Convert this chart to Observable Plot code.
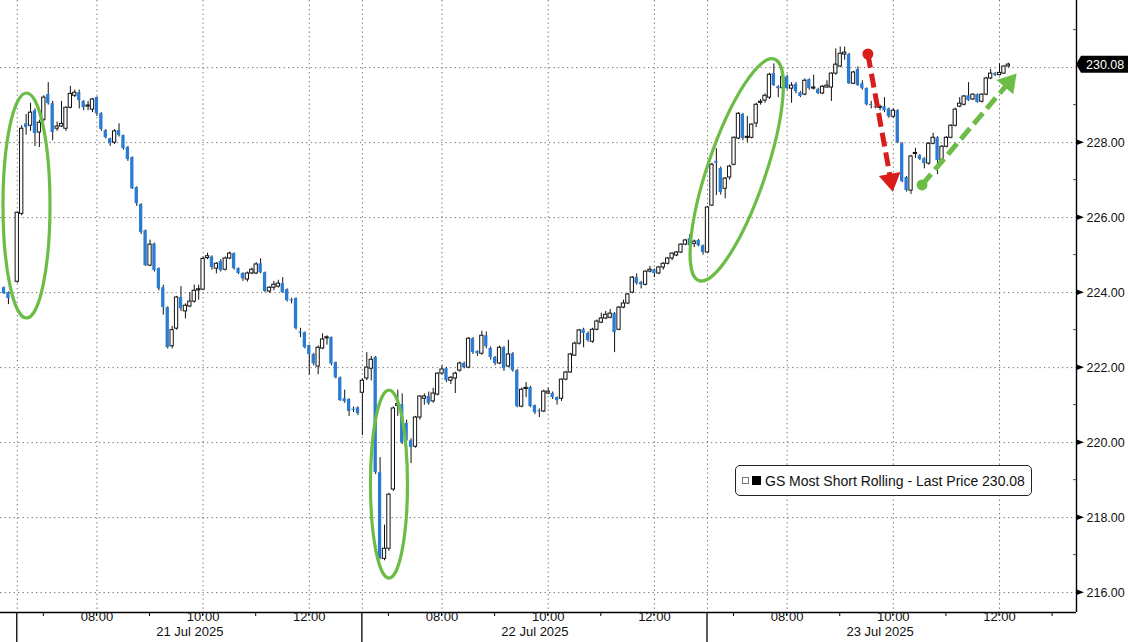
<!DOCTYPE html>
<html><head><meta charset="utf-8">
<script src="https://cdn.jsdelivr.net/npm/d3@7"></script>
<script src="https://cdn.jsdelivr.net/npm/@observablehq/plot@0.6"></script>
<style>
body{margin:0;background:#fff;}
#wrap{position:relative;width:1128px;height:642px;font-family:"Liberation Sans",Arial,sans-serif;overflow:hidden;}
#legend{position:absolute;left:735px;top:465px;width:297px;height:31px;border:1.3px solid #222;border-radius:5px;box-sizing:border-box;display:flex;align-items:center;font-size:14px;color:#111;background:#fff;white-space:nowrap;}
#legend .pm{width:5px;height:5px;border:1px solid #777;margin-left:6px;position:relative;}
#legend .sq{width:9px;height:9px;background:#000;margin-left:3px;margin-right:4px;}
</style></head><body><div id="wrap"></div>
<script>
// ---- data: 5-minute OHLC bars [open, high, low, close] ----
const prev18 = [[224.13,224.15,223.95,223.97],[224.00,224.02,223.68,223.84]];
const day21 = [
[224.29,226.15,224.25,226.13],[226.10,228.45,226.05,228.37],[228.50,228.75,228.20,228.40],[228.45,229.05,228.30,228.80],
[228.85,228.90,227.90,228.24],[228.27,228.60,227.87,228.53],[228.61,229.25,228.55,229.20],[229.28,229.60,229.00,229.04],
[229.04,229.10,228.05,228.27],[228.37,228.55,228.30,228.43],[228.43,229.10,228.40,228.50],[228.37,228.95,228.30,228.93],
[228.93,229.50,228.90,229.30],[229.25,229.40,229.20,229.33],[229.33,229.40,228.90,229.12],[229.10,229.12,228.85,228.93],
[228.96,229.10,228.85,228.99],[228.88,229.18,228.80,229.15],[229.20,229.22,228.70,228.77],[228.77,228.80,228.30,228.35],
[228.32,228.35,228.10,228.13],[228.10,228.12,227.90,227.97],[228.00,228.35,227.95,228.30],[228.32,228.50,228.15,228.19],
[228.19,228.20,227.80,227.84],[227.87,227.90,227.50,227.55],[227.60,227.62,226.75,226.77],[226.80,226.82,226.30,226.37],
[226.35,226.37,225.55,225.60],[225.65,225.67,224.70,224.72],[224.72,225.40,224.70,225.28],[225.30,225.32,224.55,224.59],
[224.64,224.66,224.05,224.10],[224.13,224.20,223.40,223.60],[223.60,223.62,222.50,222.53],[222.57,223.10,222.50,223.00],
[223.04,223.90,223.00,223.87],[223.87,224.16,223.50,223.57],[223.50,223.70,223.30,223.65],[223.63,224.00,223.60,223.76],
[223.76,224.20,223.72,224.05],[224.06,224.20,223.80,224.09],[224.08,224.95,224.05,224.90],[224.92,225.05,224.88,224.97],
[224.95,224.98,224.60,224.67],[224.64,224.80,224.50,224.77],[224.83,224.88,224.55,224.59],[224.61,224.95,224.58,224.91],
[224.91,225.08,224.88,225.04],[225.04,225.06,224.60,224.64],[224.64,224.66,224.48,224.51],[224.51,224.53,224.30,224.37],
[224.35,224.55,224.28,224.51],[224.51,224.65,224.48,224.61],[224.51,224.80,224.48,224.75],[224.77,224.90,224.50,224.53],
[224.53,224.55,224.00,224.03],[224.03,224.16,223.98,224.13],[224.13,224.30,224.05,224.21],[224.16,224.33,224.12,224.24],
[224.24,224.40,223.98,224.00],[224.08,224.10,223.75,223.79],[223.80,223.85,223.70,223.78],[223.84,223.86,223.00,223.04],
[222.95,223.05,222.80,222.92],[222.93,222.95,222.50,222.53],[222.59,222.60,221.80,222.35],[222.35,222.38,222.05,222.10],
[222.03,222.58,221.81,222.53],[222.51,222.90,222.48,222.75],[222.78,222.85,222.60,222.81],[222.80,222.82,222.05,222.10],
[222.13,222.15,221.70,221.73],[221.73,221.75,221.10,221.12],[221.17,221.40,221.05,221.09],[221.15,221.17,220.70,220.83],
[220.88,220.95,220.80,220.87],[220.93,220.95,220.72,220.77]];
const day22 = [
[221.33,221.70,220.19,221.65],[221.71,222.40,221.65,222.00],[221.97,222.30,221.65,222.21],[222.27,222.30,219.15,219.20],
[219.20,219.60,216.88,216.91],[216.90,217.80,216.85,217.17],[217.17,218.65,217.10,218.61],[218.75,220.95,218.70,220.91],
[220.98,221.40,220.70,221.03],[221.01,221.30,219.95,220.00],[220.51,220.60,220.00,220.05],[220.05,220.10,219.44,219.87],
[219.89,220.70,219.85,220.67],[220.67,221.25,220.60,221.23],[221.17,221.30,221.00,221.23],[221.23,221.35,221.00,221.04],
[221.10,221.45,221.05,221.31],[221.28,221.86,221.25,221.84],[221.84,222.05,221.80,221.95],[221.97,222.00,221.60,221.65],
[221.65,221.76,221.55,221.73],[221.71,221.88,221.31,221.84],[221.92,222.15,221.88,222.11],[222.11,222.15,221.97,222.00],
[222.00,222.80,221.97,222.77],[222.77,222.80,222.35,222.40],[222.43,222.45,222.30,222.37],[222.37,222.97,222.33,222.85],
[222.85,222.95,222.50,222.56],[222.51,222.55,222.20,222.27],[222.27,222.30,222.05,222.11],[222.11,222.57,222.08,222.53],
[222.53,222.56,221.90,221.97],[222.03,222.73,222.00,222.35],[222.37,222.40,221.88,221.92],[221.92,221.95,220.93,220.96],
[220.96,221.45,220.93,221.41],[221.43,221.60,221.20,221.46],[221.47,221.50,220.93,220.96],[220.99,221.00,220.75,220.80],
[220.84,220.90,220.67,220.82],[220.83,221.40,220.80,221.36],[221.31,221.45,221.28,221.36],[221.31,221.35,221.15,221.20],
[221.20,221.22,221.00,221.12],[221.17,221.70,221.10,221.68],[221.68,221.90,221.65,221.87],[221.87,222.38,221.85,222.35],
[222.32,222.68,222.30,222.64],[222.64,223.02,222.60,222.99],[223.01,223.05,222.53,222.91],[222.91,222.95,222.68,222.72],
[222.69,223.05,222.65,223.01],[223.01,223.27,222.98,223.23],[223.20,223.45,223.17,223.31],[223.31,223.50,223.28,223.41],
[223.33,223.55,223.30,223.44],[223.44,223.47,222.40,222.93],[223.01,223.63,222.98,223.60],[223.60,223.80,223.57,223.71],
[223.71,223.98,223.68,223.95],[224.00,224.43,223.97,224.40],[224.40,224.50,224.20,224.24],[224.27,224.30,224.10,224.21],
[224.21,224.58,224.18,224.56],[224.56,224.70,224.53,224.61],[224.61,224.63,224.40,224.51],[224.51,224.70,224.48,224.67],
[224.67,224.80,224.60,224.77],[224.77,224.93,224.74,224.91],[224.91,225.06,224.85,225.04],[224.99,225.10,224.96,225.07],
[225.07,225.30,225.04,225.28],[225.28,225.42,225.25,225.39],[225.44,225.55,225.22,225.25],[225.30,225.40,225.20,225.36],
[225.39,225.42,225.22,225.25],[225.25,225.27,225.00,225.07]];
const day23 = [
[225.07,226.30,225.05,226.27],[226.32,227.45,226.30,227.41],[227.50,227.84,226.59,227.45],[227.31,227.35,226.60,226.67],
[226.77,227.07,226.50,227.04],[227.07,227.40,227.00,227.36],[227.41,228.15,227.38,228.13],[228.11,228.80,228.08,228.77],
[228.75,228.78,228.05,228.11],[228.13,228.70,228.00,228.15],[228.13,228.50,228.10,228.48],[228.51,229.05,228.40,229.01],
[229.06,229.15,229.00,229.09],[229.12,229.30,229.05,229.25],[229.20,229.85,229.15,229.81],[229.84,230.10,229.50,229.52],
[229.49,229.52,229.20,229.44],[229.45,229.85,229.40,229.75],[229.75,229.80,229.40,229.44],[229.44,229.60,229.05,229.52],
[229.55,229.60,229.30,229.36],[229.33,229.36,229.20,229.23],[229.28,229.70,229.25,229.65],[229.68,229.70,229.40,229.44],
[229.44,229.80,229.40,229.47],[229.41,229.45,229.28,229.31],[229.31,229.52,229.28,229.49],[229.47,229.65,229.45,229.52],
[229.47,229.86,229.10,229.84],[229.84,230.50,229.80,230.08],[230.03,230.55,230.00,230.37],[230.35,230.55,230.20,230.40],
[230.35,230.38,229.55,229.57],[229.57,229.90,229.55,229.87],[229.95,230.02,229.50,229.52],[229.57,229.65,229.40,229.44],
[229.44,229.46,228.98,229.01],[229.01,229.10,228.90,229.00],[228.96,229.20,228.90,228.93],[228.93,229.00,228.85,228.95],
[228.96,229.20,228.80,228.85],[228.90,228.92,228.65,228.69],[228.69,228.90,228.65,228.85],[228.85,228.88,227.97,228.00],
[227.97,228.00,226.93,226.96],[227.07,227.10,226.68,226.72],[226.72,227.66,226.62,227.63],[227.70,227.85,227.58,227.72],
[227.65,227.68,227.52,227.55],[227.57,227.60,227.30,227.44],[227.44,228.00,227.40,227.97],[227.97,228.25,227.94,228.13],
[228.13,228.16,227.15,227.52],[227.52,227.92,227.48,227.89],[227.89,228.16,227.86,228.13],[228.13,228.48,228.10,228.45],
[228.45,228.92,228.42,228.88],[228.96,229.20,228.93,229.04],[229.01,229.26,228.98,229.23],[229.25,229.60,229.10,229.12],
[229.15,229.30,229.12,229.28],[229.28,229.30,229.05,229.07],[229.09,229.30,229.06,229.28],[229.28,229.74,229.25,229.71],
[229.71,229.95,229.68,229.84],[229.84,229.87,229.76,229.80],[229.80,230.10,229.78,229.86],[229.84,230.05,229.82,230.03],
[230.03,230.12,230.00,230.08]];
const dayLabels = ["21 Jul 2025","22 Jul 2025","23 Jul 2025"];
const hourLabels = {8:"08:00",10:"10:00",12:"12:00"};
const yTicks = [216,218,220,222,224,226,228,230];
const yMinor = [217,219,221,223,225,227,229,231];
const lastPrice = 230.08;
const seriesName = "GS Most Short Rolling - Last Price";

// ---- scale setup (x = trading-session hours, 06:30-13:00 per day, gapless) ----
const sessLen = 6.5, sessStart = 6.5;
const xMin = -0.316, xMax = 19.95, yMin = 215.47, yMax = 231.79;

const bars = [];
[[prev18,0,-3],[day21,0,0],[day22,1,0],[day23,2,0]].forEach(([arr,d,i0]) =>
  arr.forEach(([o,h,l,c],k) => bars.push({t: d*sessLen + (i0+k)/12, o, h, l, c})));
const bodies = bars.map(b => {
  let lo = Math.min(b.o,b.c), hi = Math.max(b.o,b.c);
  if (hi - lo < 0.03) { const m = (hi+lo)/2; lo = m-0.015; hi = m+0.015; }
  return {...b, lo, hi, up: b.c >= b.o};
});
const hw = 0.031;

const hourTicks = [];
dayLabels.forEach((lab, d) => {
  const last = d === 2 ? 13 : 12;
  for (let h = 7; h <= last; h++) hourTicks.push({t: d*sessLen + h - sessStart, label: hourLabels[h] || null});
});
const dayStarts = dayLabels.map((lab, d) => d*sessLen);
const dayTicks = dayLabels.map((lab, d) => ({t: d*sessLen + sessLen/2, label: lab}));
const vGrid = dayStarts.concat(hourTicks.filter(d => d.label).map(d => d.t));
// labels hidden behind the last-price tag
const yLabelled = yTicks.filter(v => Math.abs(v - lastPrice) > 0.3);

const grid = {stroke:"#6e6e6e", strokeDasharray:"1.3,3.2", strokeWidth:1};

const chart = Plot.plot({
  width:1128, height:642, marginTop:0, marginBottom:30, marginLeft:0, marginRight:52,
  x:{domain:[xMin,xMax], axis:null},
  y:{domain:[yMin,yMax], axis:null},
  style:{fontFamily:"'Liberation Sans', Arial, sans-serif", background:"#fff", color:"#111"},
  marks:[
    Plot.ruleY(yTicks, grid),
    Plot.ruleX(vGrid, {x:d=>d, ...grid}),
    Plot.ruleX(bars, {x:"t", y1:"l", y2:"h", stroke:"#111", strokeWidth:1}),
    Plot.rect(bodies.filter(d=>!d.up), {x1:d=>d.t-hw, x2:d=>d.t+hw, y1:"lo", y2:"hi", fill:"#2a7bd3"}),
    Plot.rect(bodies.filter(d=>d.up), {x1:d=>d.t-hw, x2:d=>d.t+hw, y1:"lo", y2:"hi", fill:"#fff", stroke:"#111", strokeWidth:1}),
    Plot.ruleX([xMax], {stroke:"#000", strokeWidth:1.4}),
    Plot.ruleY([yMin], {stroke:"#000", strokeWidth:1.4}),
    Plot.text(hourTicks.filter(d=>d.label), {x:"t", text:"label", frameAnchor:"bottom", dy:8, fontSize:13, fill:"#111"}),
    Plot.text(dayTicks, {x:"t", text:"label", frameAnchor:"bottom", dy:23, fontSize:13, fill:"#111"}),
    Plot.text(yLabelled, {y:d=>d, text:d=>d.toFixed(2), frameAnchor:"right", dx:10, textAnchor:"start", fontSize:12.5, fill:"#111"})
  ]
});
document.getElementById("wrap").appendChild(chart);

// ---- decorations placed through the plot's own scales ----
const sx = chart.scale("x"), sy = chart.scale("y");
const X = v => sx.apply(v), Y = v => sy.apply(v);
const yb = Y(yMin), xr = X(xMax), H = 642;
const g = d3.select(chart).append("g");
hourTicks.forEach(d => g.append("line").attr("x1",X(d.t)).attr("x2",X(d.t)).attr("y1",yb).attr("y2",yb+4).attr("stroke","#000"));
dayStarts.forEach(t => g.append("line").attr("x1",X(t)).attr("x2",X(t)).attr("y1",yb).attr("y2",H).attr("stroke","#000").attr("stroke-width",1.3));
yLabelled.forEach(v => { const y = Y(v);
  g.append("path").attr("d",`M${xr},${y-3}L${xr+8},${y}L${xr},${y+3}Z`).attr("fill","#000"); });
yMinor.filter(v => v < yMax).forEach(v => g.append("line").attr("x1",xr-3).attr("x2",xr).attr("y1",Y(v)).attr("y2",Y(v)).attr("stroke","#555"));
// last price tag
{ const y = Y(lastPrice);
  g.append("path").attr("d",`M${xr},${y}L${xr+5},${y-8.5}H1128V${y+8.5}H${xr+5}Z`).attr("fill","#000");
  g.append("text").attr("x",xr+10).attr("y",y).attr("dy","0.36em").attr("fill","#fff")
    .attr("font-size",12.5).attr("text-anchor","start").text(lastPrice.toFixed(2)); }

// annotations (green ellipses, red / green dashed arrows)
const green = "#6cbd47", red = "#d91c1c";
const ellipses = [{t:0.183,p:226.31,rx:23.5,ry:112.5,a:0},{t:7.01,p:218.88,rx:18.5,ry:94,a:0},{t:13.56,p:227.26,rx:117,ry:29,a:-71.2}];
ellipses.forEach(e => g.append("ellipse").attr("cx",X(e.t)).attr("cy",Y(e.p)).attr("rx",e.rx).attr("ry",e.ry)
  .attr("transform",`rotate(${e.a} ${X(e.t)} ${Y(e.p)})`).attr("fill","none").attr("stroke",green).attr("stroke-width",3.2));
const arrows = [{t0:16.03,p0:230.35,t1:16.50,p1:226.68,c:red},{t0:17.05,p0:226.86,t1:18.83,p1:229.83,c:green}];
arrows.forEach(a => {
  const x0=X(a.t0), y0=Y(a.p0), x1=X(a.t1), y1=Y(a.p1);
  const dx=x1-x0, dy=y1-y0, L=Math.hypot(dx,dy), ux=dx/L, uy=dy/L, hl=18, hw2=11;
  const bx=x1-ux*hl, by=y1-uy*hl;
  g.append("line").attr("x1",x0).attr("y1",y0).attr("x2",bx+ux*2).attr("y2",by+uy*2).attr("stroke",a.c).attr("stroke-width",5).attr("stroke-dasharray","14,6");
  g.append("circle").attr("cx",x0).attr("cy",y0).attr("r",5.5).attr("fill",a.c);
  g.append("path").attr("d",`M${x1},${y1}L${bx-uy*hw2},${by+ux*hw2}L${bx+uy*hw2},${by-ux*hw2}Z`).attr("fill",a.c);
});

// legend
const leg = document.createElement("div");
leg.id = "legend";
leg.innerHTML = `<div class="pm"></div><div class="sq"></div><span>${seriesName} ${lastPrice.toFixed(2)}</span>`;
document.getElementById("wrap").appendChild(leg);
</script></body></html>
